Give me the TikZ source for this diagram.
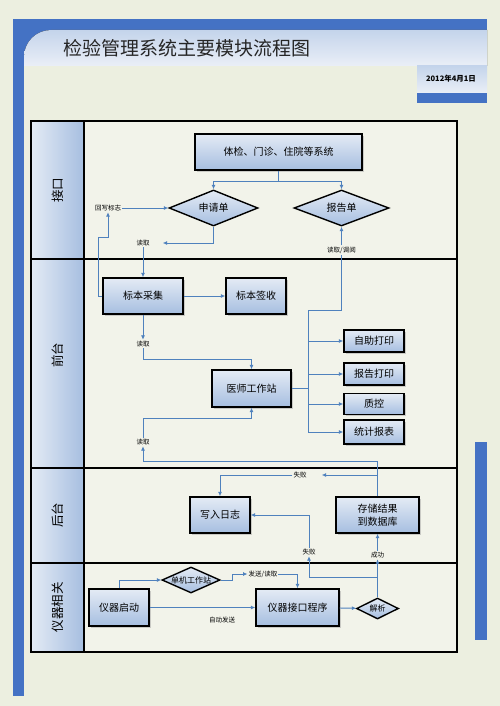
\documentclass[tikz,border=0pt]{standalone}
\usepackage{fontspec}
\setmainfont{Noto Sans CJK SC}
\usetikzlibrary{shapes,arrows.meta,positioning,calc,shadows}

\definecolor{pagebg}{RGB}{236,239,224}
\definecolor{lanebg}{RGB}{242,243,234}
\definecolor{barblue}{RGB}{68,114,196}
\definecolor{lineblue}{RGB}{79,129,189}
\definecolor{boxtop}{RGB}{228,235,245}
\definecolor{boxbot}{RGB}{166,190,224}
\definecolor{bandtop}{RGB}{196,212,235}
\definecolor{bandbot}{RGB}{234,239,247}

\begin{document}
\begin{tikzpicture}[
    x=1pt, y=-1pt,
    box/.style={rectangle, draw=black, line width=1.4pt, top color=boxtop, bottom color=boxbot, align=center, inner sep=0pt, font=\fontsize{10}{13}\selectfont, drop shadow={shadow xshift=1.5pt, shadow yshift=-1.5pt, opacity=0.35}},
    dia/.style={diamond, draw=black, line width=1.4pt, top color=boxtop, bottom color=boxbot, inner sep=0pt, aspect=2.5, font=\fontsize{10}{12}\selectfont},
    lbl/.style={inner sep=1pt, font=\fontsize{6.5}{8}\selectfont},
    lanelbl/.style={rotate=90, font=\fontsize{12.5}{14}\selectfont},
    ln/.style={line width=0.9pt, draw=lineblue},
    arr/.style={-{Latex[length=4.5pt, width=4pt]}, line width=0.9pt, draw=lineblue}
]
    % page and frame
    \fill[pagebg] (0,0) rectangle (500,706);
    \fill[barblue] (13,19) rectangle (487,30);
    \fill[barblue] (13,19) rectangle (24,696);
    \fill[barblue] (13,19) rectangle (55,66);
    \fill[top color=bandtop, bottom color=bandbot] (24,66) [rounded corners=27pt] -- (24,30) [sharp corners] -- (487,30) -- (487,66) -- cycle;
    \fill[top color=bandtop, bottom color=bandbot] (417,66) rectangle (487,93);
    \fill[barblue] (417,93) rectangle (487,103);
    \fill[barblue] (475,442) rectangle (487,640);
    \node [anchor=west, font=\fontsize{19}{22}\selectfont, text=black!85] (title) at (60,48) {检验管理系统主要模块流程图};
    \node [font=\bfseries\fontsize{7.5}{9}\selectfont] (date) at (451,79) {2012年4月1日};

    % swimlanes
    \fill[lanebg] (31,121) rectangle (457,652);
    \fill[left color=boxtop, right color=boxbot] (31,121) rectangle (84,652);
    \draw[line width=1.3pt] (31,121) rectangle (457,652);
    \draw[line width=1.3pt] (84,121) -- (84,652);
    \foreach \y in {259,468,563}
        \draw[line width=1.3pt] (31,\y) -- (457,\y);
    \node [lanelbl] (lane1) at (57.5,190) {接口};
    \node [lanelbl] (lane2) at (57.5,355) {前台};
    \node [lanelbl] (lane3) at (57.5,515) {后台};
    \node [lanelbl] (lane4) at (57.5,607) {仪器相关};

    % interface
    \node [box, minimum width=167, minimum height=36] (sys) at (278.5,152) {体检、门诊、住院等系统};
    \node [dia, minimum width=89, minimum height=36] (sqd) at (213.5,208) {申请单};
    \node [dia, minimum width=95, minimum height=36] (bgd) at (341.5,208) {报告单};
    \node [lbl] (hxbz) at (108,208) {回写标志};
    \node [lbl] (dq1) at (143,243) {读取};
    \node [lbl] (dqdy) at (341.5,250) {读取/调阅};

    % front desk
    \node [box, minimum width=80, minimum height=36] (bbcj) at (143,296) {标本采集};
    \node [box, minimum width=60, minimum height=36] (bbqs) at (256,296) {标本签收};
    \node [lbl] (dq2) at (143,344) {读取};
    \node [box, minimum width=79, minimum height=37] (yszz) at (251.5,388.5) {医师工作站};
    \node [box, minimum width=60, minimum height=22] (zzdy) at (374,341) {自助打印};
    \node [box, minimum width=60, minimum height=22] (bgdy) at (374,374) {报告打印};
    \node [box, minimum width=60, minimum height=21] (zk) at (374,404) {质控};
    \node [box, minimum width=60, minimum height=24] (tjbb) at (374,432) {统计报表};
    \node [lbl] (dq3) at (143,442) {读取};

    % back end
    \node [box, minimum width=60, minimum height=36] (xrrz) at (220,515) {写入日志};
    \node [box, minimum width=83, minimum height=36] (ccjg) at (377.5,515) {存储结果\\到数据库};
    \node [lbl] (sb1) at (300,475) {失败};
    \node [lbl] (sb2) at (309,552) {失败};
    \node [lbl] (cg) at (377.5,555) {成功};

    % instruments
    \node [box, minimum width=60, minimum height=37] (yqqd) at (119,607.5) {仪器启动};
    \node [dia, minimum width=58, minimum height=26, aspect=2.2, font=\fontsize{8}{10}\selectfont] (djgzz) at (191,580) {单机工作站};
    \node [lbl] (fsdq) at (263,574) {发送/读取};
    \node [box, minimum width=83, minimum height=37] (yqjk) at (297.5,607.5) {仪器接口程序};
    \node [dia, minimum width=42, minimum height=21, font=\fontsize{8}{10}\selectfont] (jx) at (377.5,608.5) {解析};
    \node [lbl] (zdfs) at (222,620) {自动发送};

    \coordinate (fork) at (278.5,181);
    \coordinate (tk) at (308,388.5);
    \coordinate (j1) at (377.5,475);
    \coordinate (j2) at (377.5,577);

    % connectors
    \draw [ln] (sys) -- (fork);
    \draw [arr] (fork) -| (sqd);
    \draw [arr] (fork) -| (bgd);
    \draw [arr] (hxbz) -- (sqd);
    \draw [arr, shorten >=12pt] (sqd.south) |- (dq1);
    \draw [arr] (dq1) -- (bbcj);
    \draw [arr] (bbcj.west) -| (98,237) -| (hxbz.south);
    \draw [arr] (bbcj) -- (bbqs);
    \draw [arr] (bbcj) -- (dq2);
    \draw [arr] (dq2) |- (251.5,359) -- (yszz);
    \draw [ln] (yszz.east) -- (tk);
    \draw [arr] (tk) |- (zzdy);
    \draw [arr] (tk) |- (bgdy);
    \draw [arr] (tk) |- (zk);
    \draw [arr] (tk) |- (tjbb);
    \draw [ln] (tk) |- (341.5,310) -- (dqdy);
    \draw [arr] (dqdy) -- (bgd);
    \draw [arr] (dq3) |- (251.5,418) -- (yszz);
    \draw [arr] (ccjg.north) |- (143,461) -- (dq3);
    \draw [arr, shorten >=14pt] (j1) -- (sb1);
    \draw [arr] (sb1) -| (xrrz);
    \draw [arr] (jx) -- (cg);
    \draw [arr] (cg) -- (ccjg);
    \draw [arr] (j2) -| (sb2);
    \draw [arr] (sb2) |- (xrrz);
    \draw [arr] (yqqd) |- (djgzz);
    \draw [arr] (djgzz.east) -- ++(12,0) |- (fsdq);
    \draw [arr] (fsdq) -| (yqjk);
    \draw [arr] (yqqd) -- (yqjk);
    \draw [arr] (yqjk) -- (jx);
\end{tikzpicture}
\end{document}
